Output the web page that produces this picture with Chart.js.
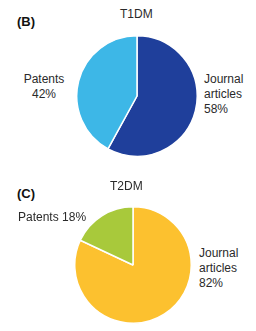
<!DOCTYPE html>
<html><head><meta charset="utf-8">
<script src="https://cdn.jsdelivr.net/npm/chart.js@4"></script>
<style>
html,body{margin:0;padding:0;background:#fff;width:256px;height:331px;overflow:hidden;}
body{position:relative;font-family:"Liberation Sans",Arial,sans-serif;color:#2a2a2a;}
canvas{position:absolute;}
.t{position:absolute;font-size:12px;line-height:15px;white-space:nowrap;}
.b{font-weight:bold;font-size:13px;color:#111;}
</style></head>
<body>
<canvas id="c1" width="124" height="124" style="left:75px;top:34px;width:124px;height:124px"></canvas>
<canvas id="c2" width="120" height="120" style="left:73px;top:205px;width:120px;height:120px"></canvas>
<div class="t b" style="left:17px;top:14px">(B)</div>
<div class="t" style="left:120px;top:7px">T1DM</div>
<div class="t" style="left:23px;top:72px;text-align:center;width:42px">Patents<br>42%</div>
<div class="t" style="left:204px;top:72px">Journal<br>articles<br>58%</div>
<div class="t b" style="left:17px;top:186px">(C)</div>
<div class="t" style="left:110px;top:179px">T2DM</div>
<div class="t" style="left:18px;top:210px">Patents 18%</div>
<div class="t" style="left:199px;top:246px">Journal<br>articles<br>82%</div>
<script>
const categories = ["Journal articles", "Patents"];
const t1dmValues = [58, 42];
const t2dmValues = [82, 18];
const t1dmColors = ["#1f3f9b", "#3db7e7"];
const t2dmColors = ["#fcc12f", "#a8c93b"];

function makePie(id, values, colors) {
  new Chart(document.getElementById(id), {
    type: 'pie',
    data: { labels: categories, datasets: [{ data: values, backgroundColor: colors, borderColor: '#ffffff', borderWidth: 1.5 }] },
    options: {
      responsive: false, maintainAspectRatio: false, animation: false,
      layout: { padding: 1 },
      plugins: { legend: { display: false }, tooltip: { enabled: false } }
    }
  });
}
makePie('c1', t1dmValues, t1dmColors);
makePie('c2', t2dmValues, t2dmColors);
</script>
</body></html>
